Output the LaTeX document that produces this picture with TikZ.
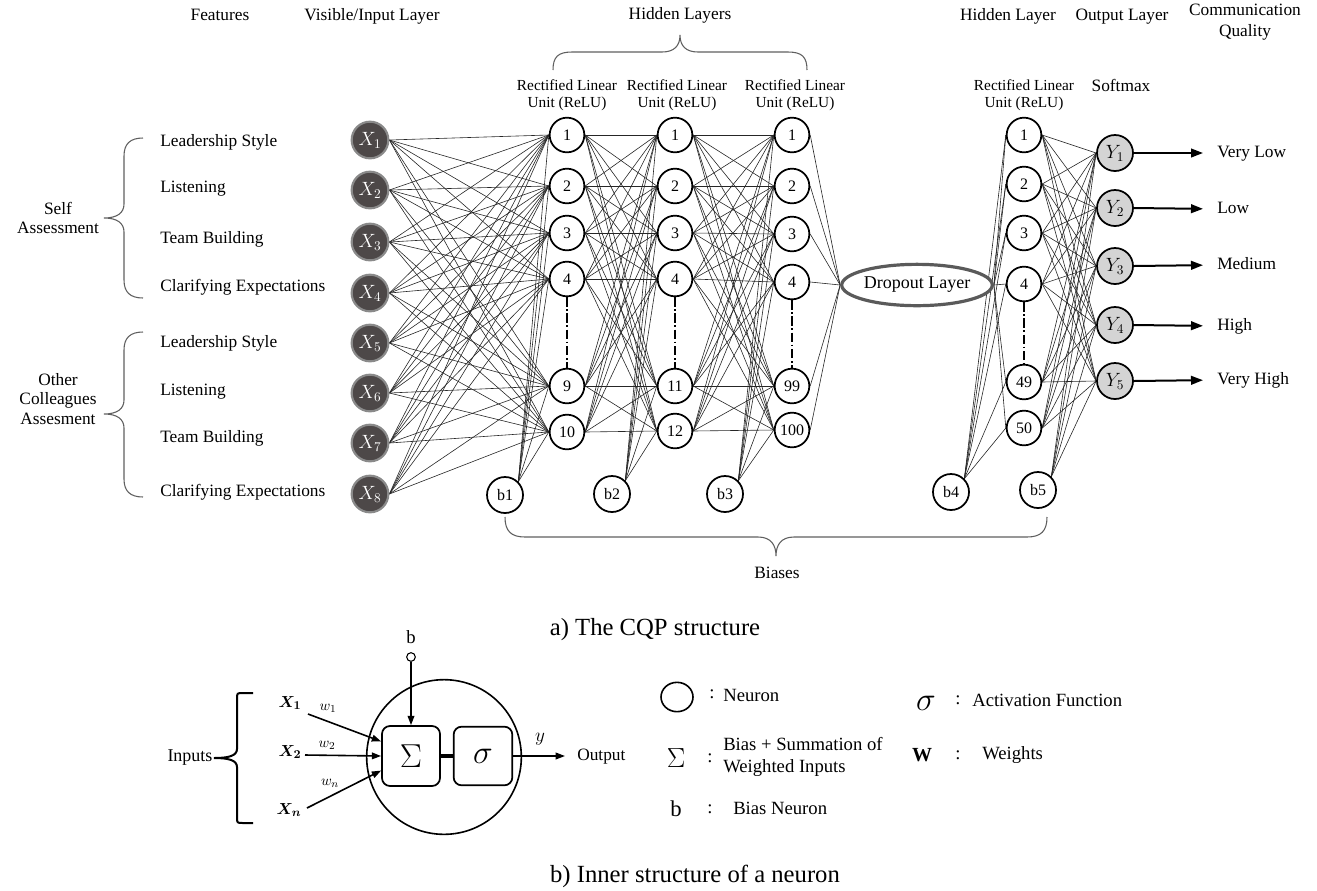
\documentclass[tikz,border=0pt]{standalone}
\usepackage{amsmath,bm}
\usepackage{fontspec}
\setmainfont{Liberation Serif}
\usetikzlibrary{arrows.meta,calc,shapes.geometric}
\pgfdeclarelayer{background}
\pgfsetlayers{background,main}
\definecolor{inpfill}{HTML}{4D4848}
\definecolor{inpline}{HTML}{8A8A8A}
\definecolor{outfill}{HTML}{D4D4D4}
\definecolor{dropline}{HTML}{5A5A5A}
\definecolor{bracecol}{HTML}{5F5F5F}
\newcommand{\fs}[1]{\fontsize{#1}{1.2\dimexpr#1pt\relax}\selectfont}
\begin{document}
\begin{tikzpicture}[x=0.75pt,y=-0.75pt,
  neuron/.style={circle,draw=black,line width=1.3pt,fill=white,inner sep=0pt,minimum size=26pt,font=\fs{12}},
  biasn/.style={neuron,minimum size=27pt},
  inp/.style={circle,draw=inpline,line width=1.6pt,fill=inpfill,inner sep=0pt,minimum size=27.5pt,text=white,font=\fs{14}},
  outn/.style={circle,draw=black,line width=1.3pt,fill=outfill,inner sep=0pt,minimum size=27pt,font=\fs{14}},
  wire/.style={line width=0.45pt,draw=black!85},
  dashdot/.style={line width=0.9pt,dash pattern=on 7pt off 2pt on 1.2pt off 2pt},
  lbl/.style={inner sep=0pt,font=\fs{13},text height=9pt,text depth=3pt},
  relu/.style={inner sep=0pt,align=center,font=\fontsize{11.5}{12.8}\selectfont},
  bracepath/.style={draw=bracecol,line width=0.8pt},
  outarrow/.style={line width=1.5pt,-{Triangle[length=9pt,width=6.5pt]}},
  sarrow/.style={line width=1.2pt,-{Triangle[length=7pt,width=5pt]}},
  cellbox/.style={draw=black,line width=1.3pt,rounded corners=6pt,fill=white,inner sep=0pt,minimum width=43.5pt,minimum height=45pt},
  caption/.style={inner sep=0pt,font=\fs{18.5}},
  legend/.style={inner sep=0pt,font=\fs{14},text height=9.5pt,text depth=3pt}]
\useasboundingbox (0,0) rectangle (1317,890);

% ---------- column headers ----------
\node[lbl] (hfeat) at (220,16) {Features};
\node[lbl] (hvis) at (372,16) {Visible/Input Layer};
\node[lbl] (hhid) at (680,15) {Hidden Layers};
\node[lbl] (hhid2) at (1008,16) {Hidden Layer};
\node[lbl] (hout) at (1122,16) {Output Layer};
\node[inner sep=0pt,align=center,font=\fontsize{13}{15.8}\selectfont] (hcq) at (1245,22) {Communication\\Quality};
\node[relu] (relu1) at (567,95) {Rectified Linear\\Unit (ReLU)};
\node[relu] (relu2) at (677,95) {Rectified Linear\\Unit (ReLU)};
\node[relu] (relu3) at (795,95) {Rectified Linear\\Unit (ReLU)};
\node[relu] (relu4) at (1024,95) {Rectified Linear\\Unit (ReLU)};
\node[lbl] (soft) at (1121,87) {Softmax};

% brace over the hidden layers
\draw[bracepath] (553,70) .. controls (553,57) and (558,52) .. (572,52) -- (662,52)
  .. controls (674,52) and (680,46) .. (680,35)
  .. controls (680,46) and (686,52) .. (698,52) -- (788,52)
  .. controls (802,52) and (807,57) .. (807,70);

% ---------- feature labels ----------
\foreach \t/\yy [count=\k] in {Leadership Style/142,Listening/188,Team Building/239,Clarifying Expectations/287,
  Leadership Style/343,Listening/391,Team Building/438,Clarifying Expectations/492}
  {\node[lbl,anchor=west] (f\k) at (160,\yy) {\t};}

% group braces
\draw[bracepath] (143,138) .. controls (130,138) and (124,144) .. (124,156) -- (124,204)
  .. controls (124,213) and (117,218) .. (104,218)
  .. controls (117,218) and (124,223) .. (124,232) -- (124,280)
  .. controls (124,292) and (130,298) .. (143,298);
\draw[bracepath] (143,332) .. controls (130,332) and (124,338) .. (124,350) -- (124,400)
  .. controls (124,409) and (117,414) .. (104,414)
  .. controls (117,414) and (124,419) .. (124,428) -- (124,479)
  .. controls (124,491) and (130,497) .. (143,497);
\node[inner sep=0pt,align=center,font=\fontsize{13}{14.5}\selectfont] (gself) at (58,218) {Self\\Assessment};
\node[inner sep=0pt,align=center,font=\fontsize{13}{14.5}\selectfont] (goth) at (58,399) {Other\\Colleagues\\Assesment};

% ---------- network nodes ----------
\foreach \yy [count=\k] in {140,190,242,293,343,393,443,494}
  {\node[inp] (x\k) at (370,\yy) {$X_{\k}$};}
\foreach \k/\t/\yy in {1/1/135,2/2/186,3/3/233,4/4/279,5/9/386,6/10/432}
  {\node[neuron] (p\k) at (567,\yy) {\t};}
\foreach \k/\t/\yy in {1/1/135,2/2/186,3/3/233,4/4/279,5/11/386,6/12/431}
  {\node[neuron] (q\k) at (675,\yy) {\t};}
\foreach \k/\t/\yy in {1/1/135,2/2/186,3/3/234,4/4/282,5/99/386,6/100/430}
  {\node[neuron] (r\k) at (792,\yy) {\t};}
\foreach \k/\t/\yy in {1/1/135,2/2/184,3/3/233,4/4/284,5/49/382,6/50/428}
  {\node[neuron] (s\k) at (1024,\yy) {\t};}
\foreach \yy [count=\k] in {153,208,266,325,381}
  {\node[outn] (y\k) at (1115,\yy) {$Y_{\k}$};}
\node[biasn] (bb1) at (505,495) {b1};
\node[biasn] (bb2) at (612,494) {b2};
\node[biasn] (bb3) at (725,494) {b3};
\node[biasn] (bb4) at (951,492) {b4};
\node[biasn] (bb5) at (1038,490) {b5};
\node[ellipse,draw=dropline,line width=2.4pt,fill=white,inner sep=0pt,minimum width=97pt,minimum height=31pt,font=\fs{13.5}] (drop) at (917,285) {Dropout Layer};

% elided neurons
\draw[dashdot] (p4.south) -- (p5.north);
\draw[dashdot] (q4.south) -- (q5.north);
\draw[dashdot] (r4.south) -- (r5.north);
\draw[dashdot] (s4.south) -- (s5.north);

% ---------- weights ----------
\begin{pgfonlayer}{background}
\foreach \i in {1,...,8}
  \foreach \k in {1,...,6}
    {\draw[wire] (x\i.east) -- (p\k.west);}
\foreach \i in {1,...,6}
  \foreach \k in {1,...,6}
    {\draw[wire] (p\i.east) -- (q\k.west);
     \draw[wire] (q\i.east) -- (r\k.west);}
\foreach \k in {1,...,6}
  {\draw[wire] (bb1.north east) -- (p\k.west);
   \draw[wire] (bb2.north east) -- (q\k.west);
   \draw[wire] (bb3.north east) -- (r\k.west);
   \draw[wire] (bb4.north east) -- (s\k.west);
   \draw[wire] (r\k.east) -- (drop.west);
   \draw[wire] (drop.east) -- (s\k.west);}
\foreach \i in {1,...,6}
  \foreach \k in {1,...,5}
    {\draw[wire] (s\i.east) -- (y\k.west);}
\foreach \k in {1,...,5}
  {\draw[wire] (bb5.north east) -- (y\k.west);}
\end{pgfonlayer}

% ---------- outputs ----------
\foreach \t/\yy [count=\k] in {Very Low/153,Low/209,Medium/265,High/326,Very High/380}
  {\node[lbl,anchor=west] (o\k) at (1217,\yy) {\t};
   \draw[outarrow,shorten >=10.5pt] (y\k.east) -- (o\k.west);}

% brace over the bias neurons
\draw[bracepath] (505,517) .. controls (505,531) and (511,537) .. (525,537) -- (758,537)
  .. controls (771,537) and (776,545) .. (776,556)
  .. controls (776,545) and (781,537) .. (794,537) -- (1027,537)
  .. controls (1041,537) and (1047,531) .. (1047,517);
\node[lbl] (biases) at (777,574) {Biases};

\node[caption] (capa) at (655,630) {a) The CQP structure};

% ---------- inner structure of a neuron ----------
\node[circle,draw=black,line width=1.2pt,inner sep=0pt,minimum size=116pt] (cell) at (444,757) {};
\node[cellbox,font=\fs{27}] (sum) at (411,756) {$\Sigma$};
\node[cellbox,minimum width=44pt,minimum height=44pt,font=\fs{28}] (act) at (483,756) {$\sigma$};
\draw[line width=2.6pt] (sum.east) -- (act.west);

\node[circle,draw=black,line width=0.8pt,fill=white,inner sep=0pt,minimum size=6.5pt] (bn) at (411,657) {};
\node[inner sep=0pt,font=\fs{14}] (blab) at (411,637) {b};
\draw[sarrow] (bn.south) -- (sum.north);

\node[inner sep=0pt,font=\fs{13}] (in1) at (290,703) {$\bm{X_1}$};
\node[inner sep=0pt,font=\fs{13}] (in2) at (290,752) {$\bm{X_2}$};
\node[inner sep=0pt,font=\fs{13}] (in3) at (289,810) {$\bm{X_n}$};
\coordinate (st1) at (308,714);
\coordinate (st2) at (305,755);
\coordinate (st3) at (307,808);
\draw[sarrow] (st1) -- (sum.154);
\draw[sarrow] (st2) -- (sum.west);
\draw[sarrow] (st3) -- (sum.206);
\node[inner sep=0pt,font=\fs{11}] (w1) at (328,708) {$w_1$};
\node[inner sep=0pt,font=\fs{11}] (w2) at (327,745) {$w_2$};
\node[inner sep=0pt,font=\fs{11}] (wn) at (330,783) {$w_n$};

\draw[line width=1.5pt] (253,693) -- (243,693) .. controls (237,693) .. (237,699) -- (237,749)
  .. controls (237,756) and (228,758) .. (214,758)
  .. controls (228,758) and (237,760) .. (237,767) -- (237,817)
  .. controls (237,823) .. (243,823) -- (253,823);
\node[lbl,font=\fs{13.5}] (inputs) at (190,757) {Inputs};

\node[lbl,anchor=west] (outlab) at (577,756) {Output};
\draw[sarrow,shorten >=9pt] (act.east) -- (outlab.west);
\node[inner sep=0pt,font=\fs{14}] (ylab) at (540,739) {$y$};

% legend
\node[ellipse,draw=black,line width=1.2pt,inner sep=0pt,minimum width=24pt,minimum height=22pt] (lgn) at (677,697) {};
\node[legend] (c1) at (712,694) {:};
\node[legend,anchor=west] (t1) at (723,697) {Neuron};
\node[inner sep=0pt,font=\fs{24}] (lgsig) at (926,703) {$\sigma$};
\node[legend] (c2) at (958,700) {:};
\node[legend,anchor=west] (t2) at (972,702) {Activation Function};
\node[inner sep=0pt,font=\fs{20}] (lgsum) at (676,758) {$\Sigma$};
\node[legend] (c3) at (710,758) {:};
\node[inner sep=0pt,anchor=west,align=left,font=\fontsize{14}{17}\selectfont] (t3) at (723,757) {Bias + Summation of\\Weighted Inputs};
\node[inner sep=0pt,font=\fs{15}] (lgw) at (922,755) {\textbf{W}};
\node[legend] (c4) at (958,755) {:};
\node[legend,anchor=west] (t4) at (982,755) {Weights};
\node[inner sep=0pt,font=\fs{17}] (lgb) at (676,809) {b};
\node[legend] (c5) at (710,809) {:};
\node[legend,anchor=west] (t5) at (733,810) {Bias Neuron};

\node[caption] (capb) at (695,876) {b) Inner structure of a neuron};
\end{tikzpicture}
\end{document}
